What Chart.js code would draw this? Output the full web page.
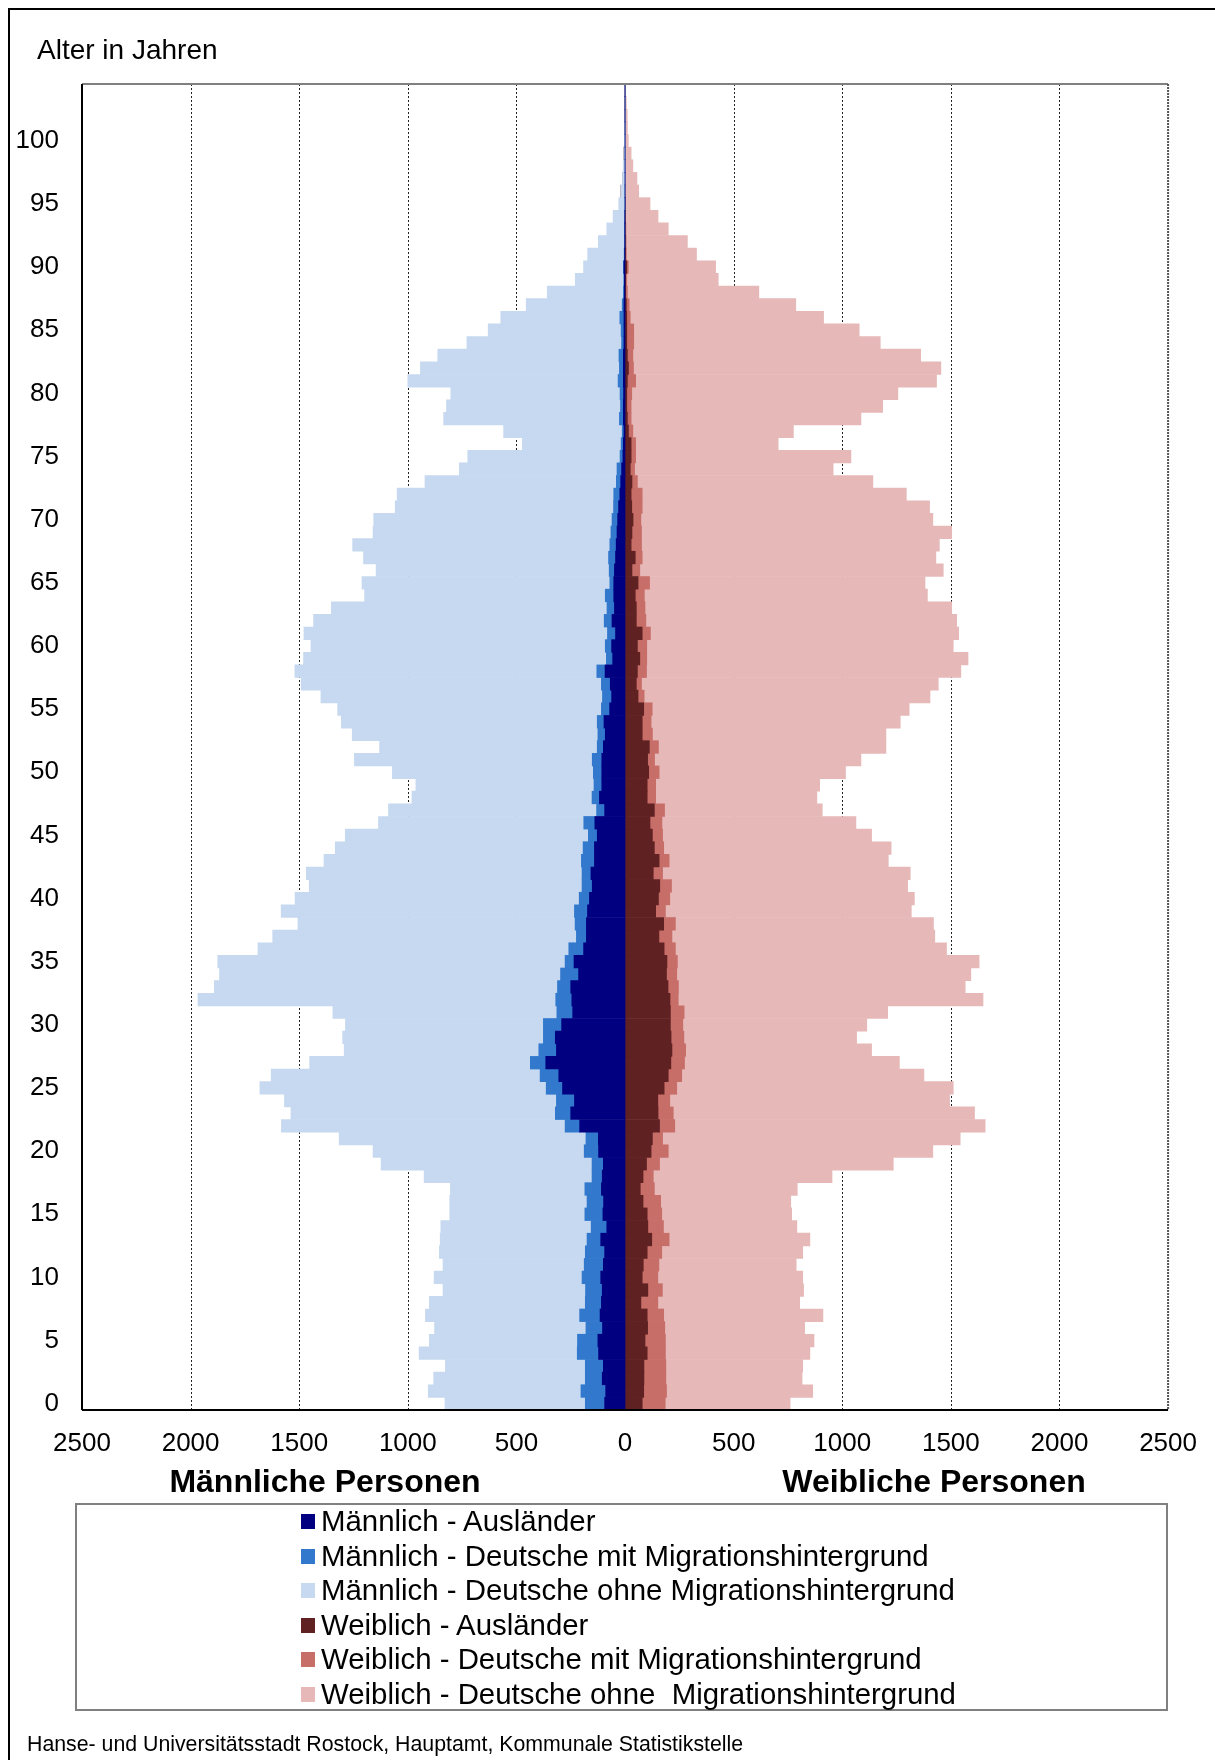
<!DOCTYPE html>
<html><head><meta charset="utf-8">
<script src="https://cdn.jsdelivr.net/npm/chart.js@4.4.1/dist/chart.umd.min.js"></script>
<style>
html,body{margin:0;padding:0;background:#fff;}
body{width:1215px;height:1760px;position:relative;overflow:hidden;font-family:"Liberation Sans",Arial,sans-serif;color:#000;}
#frame{position:absolute;left:8px;top:8px;width:1400px;height:1900px;border-left:2px solid #000;border-top:2px solid #000;box-sizing:border-box;}
#c{position:absolute;left:0;top:0;}
.t{position:absolute;white-space:nowrap;}
#ytitle{left:37px;top:34px;font-size:28px;line-height:32px;}
.axt{top:1462px;font-size:32px;line-height:38px;font-weight:bold;transform:translateX(-50%);}
#legend{position:absolute;left:75px;top:1503px;width:1093px;height:208px;border:2px solid #808080;box-sizing:border-box;}
.li{position:absolute;left:224px;height:34px;line-height:34px;font-size:29.4px;white-space:pre;}
.li span.sw{position:absolute;left:0;top:10px;width:14px;height:15px;}
.li span.tx{position:absolute;left:20px;top:0;white-space:pre;}
#footer{left:27px;top:1731px;font-size:21.3px;line-height:26px;}
</style>
</head><body>
<div id="frame"></div>
<canvas id="c" width="1215" height="1760"></canvas>
<div class="t" id="ytitle">Alter in Jahren</div>
<div class="t axt" id="mt" style="left:325px;">Männliche Personen</div>
<div class="t axt" id="wt" style="left:934px;">Weibliche Personen</div>
<div id="legend"></div>
<div class="t" id="footer">Hanse- und Universitätsstadt Rostock, Hauptamt, Kommunale Statistikstelle</div>
<script>
const ages = [0,1,2,3,4,5,6,7,8,9,10,11,12,13,14,15,16,17,18,19,20,21,22,23,24,25,26,27,28,29,30,31,32,33,34,35,36,37,38,39,40,41,42,43,44,45,46,47,48,49,50,51,52,53,54,55,56,57,58,59,60,61,62,63,64,65,66,67,68,69,70,71,72,73,74,75,76,77,78,79,80,81,82,83,84,85,86,87,88,89,90,91,92,93,94,95,96,97,98,99,100,101,102,103,104];
const yTickLabels = ['0','5','10','15','20','25','30','35','40','45','50','55','60','65','70','75','80','85','90','95','100'];
const xTickValues = [-2500,-2000,-1500,-1000,-500,0,500,1000,1500,2000,2500];

const seriesLabels = ['Männlich - Ausländer','Männlich - Deutsche mit Migrationshintergrund','Männlich - Deutsche ohne Migrationshintergrund','Weiblich - Ausländer','Weiblich - Deutsche mit Migrationshintergrund','Weiblich - Deutsche ohne  Migrationshintergrund'];
const seriesColors = ['#000080','#3278CD','#C6D9F0','#602123','#C86E69','#E6B9B8'];

const maleAuslaender = [94,89,105,100,122,125,104,115,109,105, 112,100,94,112,84,102,99,109,105,100, 122,123,209,250,233,288,305,365,316,321, 292,241,245,250,214,235,191,178,178,173, 164,151,157,141,141,128,139,94,118,107, 107,107,100,91,97,71,62,68,92,57, 62,44,60,49,52,52,49,44,41,37, 34,30,24,20,16,10,8,5,8,8, 7,8,8,8,5,5,5,5,3,3, 5,2,1,1,1,0,0,0,0,0, 0,0,0,0,0];
const maleMitMig = [89,114,78,83,98,94,76,94,74,77, 86,88,89,63,72,83,76,76,47,52, 66,57,67,71,83,75,86,71,81,55, 84,73,74,61,83,41,68,46,52,60, 47,47,41,60,52,41,51,37,34,36, 39,44,28,34,31,38,42,41,38,29, 29,37,36,34,39,18,24,32,29,28, 26,23,28,20,21,13,10,8,18,13, 16,24,18,20,11,13,19,8,5,3, 3,2,2,2,1,1,1,0,0,0, 0,0,0,0,0];
const maleOhneMig = [646,703,698,644,728,682,697,710,718,656, 681,650,672,676,692,622,632,619,773,971, 972,1136,1306,1217,1252,1318,1238,1016,896,924, 911,1031,1647,1580,1570,1599,1431,1398,1276,1350, 1308,1256,1269,1185,1141,1119,945,958,829,820, 925,1095,1002,1131,1178,1214,1296,1382,1390,1394, 1355,1397,1338,1269,1108,1141,1073,1128,1184,1095, 1097,1005,997,881,726,701,455,546,809,801, 779,968,916,834,712,612,548,442,350,223, 183,168,120,81,53,28,18,12,8,5, 3,2,1,1,0];
const femaleAuslaender = [79,86,87,87,102,92,104,102,73,105, 79,84,102,123,105,102,83,70,83,99, 120,126,159,152,151,180,199,211,216,212, 209,209,207,198,191,193,180,156,178,141, 154,160,130,157,135,126,115,135,102,102, 109,104,112,79,79,86,60,52,57,68, 57,79,52,52,47,60,32,47,28,32, 37,31,28,32,24,28,28,16,11,8, 8,11,16,11,8,8,8,6,3,3, 8,2,2,1,1,1,0,0,0,0, 0,0,0,0,0];
const femaleMitMig = [106,105,101,101,84,94,79,76,78,67, 72,72,67,80,72,67,81,65,47,60, 79,47,70,70,55,58,62,63,63,59, 57,63,38,48,47,48,52,60,54,45, 52,54,43,46,43,47,55,47,39,39, 48,32,42,47,41,39,28,24,42,32, 43,38,44,40,42,53,36,32,48,44, 36,48,51,25,20,21,21,20,17,20, 23,38,23,25,32,32,16,13,8,5, 7,4,3,3,2,2,2,2,1,1, 1,1,0,0,0];
const femaleOhneMig = [575,673,627,630,665,684,644,733,653,650, 667,632,649,648,614,598,599,658,823,1076, 1218,1370,1429,1387,1288,1273,1115,989,856,795, 847,937,1403,1320,1354,1389,1248,1210,1188,1132, 1126,1087,1140,1009,1047,962,893,726,742,755, 858,950,1047,1075,1147,1183,1316,1366,1447,1479, 1411,1419,1431,1412,1303,1268,1397,1352,1371,1428, 1344,1323,1216,1084,914,991,656,739,1058,1158, 1225,1385,1415,1325,1135,1038,890,767,605,421, 402,323,282,195,149,112,61,53,35,27, 14,10,10,6,3];

const FONT = '"Liberation Sans", Arial, sans-serif';
const neg = arr => arr.map(v => -v);
const seriesData = [neg(maleAuslaender), neg(maleMitMig), neg(maleOhneMig), femaleAuslaender, femaleMitMig, femaleOhneMig];

const gridPlugin = {
  id: 'pyrGrid',
  beforeDatasetsDraw(chart) {
    const {ctx, chartArea: a, scales: {x}} = chart;
    ctx.save();
    ctx.lineWidth = 1;
    x.ticks.forEach(t => {
      if (t.value <= x.min || t.value >= x.max) return;
      const px = Math.round(x.getPixelForValue(t.value)) + 0.5;
      ctx.strokeStyle = t.value === 0 ? '#333' : '#222';
      ctx.setLineDash(t.value === 0 ? [] : [2, 2]);
      ctx.beginPath(); ctx.moveTo(px, a.top); ctx.lineTo(px, a.bottom); ctx.stroke();
    });
    ctx.restore();
  },
  afterDatasetsDraw(chart) {
    const {ctx, chartArea: a} = chart;
    ctx.save();
    ctx.setLineDash([]);
    ctx.lineWidth = 2;
    ctx.strokeStyle = '#808080';
    ctx.beginPath(); ctx.moveTo(a.left, a.top); ctx.lineTo(a.right, a.top); ctx.stroke();
    ctx.strokeStyle = '#555';
    ctx.setLineDash([2, 1]);
    ctx.beginPath(); ctx.moveTo(a.right, a.top); ctx.lineTo(a.right, a.bottom); ctx.stroke();
    ctx.setLineDash([]);
    ctx.strokeStyle = '#000';
    ctx.beginPath(); ctx.moveTo(a.left, a.top); ctx.lineTo(a.left, a.bottom); ctx.stroke();
    ctx.beginPath(); ctx.moveTo(a.left, a.bottom); ctx.lineTo(a.right, a.bottom); ctx.stroke();
    ctx.restore();
  }
};

new Chart(document.getElementById('c'), {
  type: 'bar',
  data: {
    labels: ages.map(String),
    datasets: seriesLabels.map((lab, i) => ({
      label: lab, data: seriesData[i], backgroundColor: seriesColors[i],
      borderWidth: 0, barPercentage: 1, categoryPercentage: 1
    }))
  },
  options: {
    indexAxis: 'y', responsive: false, animation: false,
    layout: {padding: {left: 0, right: 41, top: 84, bottom: 290}},
    plugins: {legend: {display: false}, tooltip: {enabled: false}},
    scales: {
      x: {
        stacked: true, min: xTickValues[0], max: xTickValues[xTickValues.length - 1],
        afterBuildTicks(s) { s.ticks = xTickValues.map(v => ({value: v})); },
        ticks: {callback: v => String(Math.abs(v)), color: '#000', font: {family: FONT, size: 26}, padding: 18, maxRotation: 0, autoSkip: false},
        grid: {display: false, drawTicks: false}, border: {display: false},
        afterFit(s) { s.height = 60; }
      },
      y: {
        stacked: true, reverse: true,
        ticks: {autoSkip: false, color: '#000', font: {family: FONT, size: 26}, padding: 23,
          callback: (v, i) => yTickLabels.includes(String(ages[i])) ? String(ages[i]) : ''},
        grid: {display: false, drawTicks: false}, border: {display: false},
        afterFit(s) { s.width = 82; }
      }
    }
  },
  plugins: [gridPlugin]
});

const leg = document.getElementById('legend');
seriesLabels.forEach((lab, i) => {
  const d = document.createElement('div');
  d.className = 'li';
  d.style.top = (-1 + i * 34.6) + 'px';
  d.innerHTML = '<span class="sw" style="background:' + seriesColors[i] + '"></span><span class="tx"></span>';
  d.querySelector('.tx').textContent = lab;
  leg.appendChild(d);
});
</script>
</body></html>
